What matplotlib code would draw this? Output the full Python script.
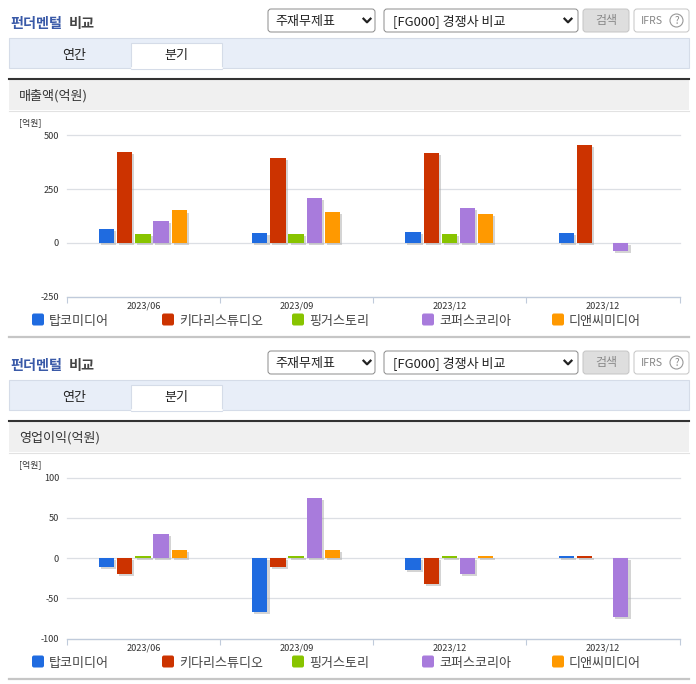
import matplotlib
matplotlib.use("Agg")
import matplotlib.pyplot as plt
import matplotlib.patheffects as pe
from matplotlib.patches import Rectangle, FancyBboxPatch, Circle
import numpy as np

plt.rcParams['font.family'] = ['Noto Sans CJK KR', 'DejaVu Sans']

quarters = ["2023/06", "2023/09", "2023/12", "2023/12"]
companies = ["탑코미디어", "키다리스튜디오", "핑거스토리", "코퍼스코리아", "디앤씨미디어"]
colors = ["#1f6be0", "#cc3300", "#88c400", "#a87bdc", "#ff9900"]

# 매출액, per company, per quarter (nan = no bar)
sales_top = [66, 46, 52, 48]
sales_kidari = [423, 397, 420, 457]
sales_finger = [43, 43, 43, np.nan]
sales_corpus = [103, 210, 163, -39]
sales_dnc = [151, 145, 136, np.nan]

# 영업이익
profit_top = [-11, -67, -15, 2]
profit_kidari = [-20, -11, -32, 2]
profit_finger = [3, 3, 3, np.nan]
profit_corpus = [30, 75, -20, -73]
profit_dnc = [10, 10, 2, np.nan]

sales = [sales_top, sales_kidari, sales_finger, sales_corpus, sales_dnc]
profit = [profit_top, profit_kidari, profit_finger, profit_corpus, profit_dnc]

W, H = 696, 684
fig = plt.figure(figsize=(W / 100, H / 100), dpi=100)

# page chrome lives in a full figure axes in pixel coordinates
bg = fig.add_axes([0, 0, 1, 1])
bg.set_xlim(0, W)
bg.set_ylim(H, 0)
bg.axis("off")


def rounded(x0, y0, x1, y1, fc, ec):
    bg.add_patch(FancyBboxPatch((x0 + 2, y0 + 2), x1 - x0 - 4, y1 - y0 - 4,
                                boxstyle="round,pad=2,rounding_size=3",
                                fc=fc, ec=ec, lw=0.7))


def chevron(x, y):
    bg.plot([x - 3.5, x, x + 3.5], [y - 1.8, y + 1.8, y - 1.8], color="#222222", lw=1.6)


def draw_chrome(dy, label):
    bg.text(10, 24 + dy, "펀더멘털", color="#3a5aa8", fontsize=10.2, fontweight="bold", va="center")
    bg.text(69, 24 + dy, "비교", color="#444444", fontsize=10.2, fontweight="bold", va="center")

    rounded(268, 9 + dy, 375, 32 + dy, "white", "#8a8a8a")
    bg.text(275, 21 + dy, "주재무제표", color="#222222", fontsize=9.4, va="center")
    chevron(367, 20.5 + dy)
    rounded(384, 9 + dy, 578, 32 + dy, "white", "#8a8a8a")
    bg.text(393, 21 + dy, "[FG000] 경쟁사 비교", color="#222222", fontsize=9.4, va="center")
    chevron(568, 20.5 + dy)
    rounded(583, 9 + dy, 629, 32 + dy, "#dedede", "#c4c4c4")
    bg.text(606, 20.5 + dy, "검색", color="#888888", fontsize=8.6, ha="center", va="center")
    rounded(634, 9 + dy, 689, 32 + dy, "white", "#c4c4c4")
    bg.text(641, 20.5 + dy, "IFRS", color="#888888", fontsize=7.6, va="center")
    bg.add_patch(Circle((676.5, 20.5 + dy), 6.5, fc="white", ec="#999999", lw=0.8))
    bg.text(676.5, 20.5 + dy, "?", color="#888888", fontsize=7, ha="center", va="center")

    bg.add_patch(Rectangle((9, 38 + dy), 680, 30, fc="#e8eef8", ec="#d5dce8", lw=0.8))
    bg.add_patch(Rectangle((131, 43 + dy), 91, 25.5, fc="white", ec="#d5dce8", lw=0.8))
    bg.plot([131.5, 221.5], [68 + dy, 68 + dy], color="white", lw=1.2)
    bg.text(74, 55 + dy, "연간", color="#222222", fontsize=9.4, ha="center", va="center")
    bg.text(176, 55 + dy, "분기", color="#222222", fontsize=9.4, ha="center", va="center")

    bg.add_patch(Rectangle((9, 80 + dy), 680, 30, fc="#f0f0f0", ec="none"))
    bg.plot([9, 689], [110.5 + dy, 110.5 + dy], color="#e2e2e2", lw=0.8)
    bg.plot([9, 689], [79 + dy, 79 + dy], color="#333333", lw=1.5)
    bg.text(19, 96 + dy, label, color="#333333", fontsize=9.4, va="center")
    bg.text(19, 122.5 + dy, "[억원]", color="#333333", fontsize=6.4, va="center")

    legend_x = [32, 162, 292, 422, 552]
    for x, name, c in zip(legend_x, companies, colors):
        bg.add_patch(FancyBboxPatch((x + 1.5, 315 + dy), 9, 9,
                                    boxstyle="round,pad=1.5,rounding_size=2", fc=c, ec="none"))
        bg.text(x + 17, 321 + dy, name, color="#444444", fontsize=9.4, va="center")

    bg.plot([9, 689], [337 + dy, 337 + dy], color="#c6c6c6", lw=1.6)


def draw_chart(dy, series, yticks):
    top, bottom = 135.5 + dy, 296.5 + dy
    left, right = 66.7, 679.7
    ax = fig.add_axes([left / W, 1 - bottom / H, (right - left) / W, (bottom - top) / H])
    ax.patch.set_alpha(0)
    ax.set_xlim(0, len(quarters))
    ax.set_ylim(yticks[0], yticks[-1])

    centers = np.arange(len(quarters)) + 0.5
    step = 0.1185
    for i, (vals, c) in enumerate(zip(series, colors)):
        ax.bar(centers + (i - 2) * step - 0.003, vals, width=0.1, color=c, zorder=3,
               path_effects=[pe.SimplePatchShadow(offset=(1.5, -1.5),
                                                  shadow_rgbFace="#aaaaaa", alpha=0.5),
                             pe.Normal()])

    ax.set_yticks(yticks)
    ax.set_yticklabels([str(t) for t in yticks], fontsize=6.6, color="#333333")
    ax.grid(axis="y", color="#dcdfe4", lw=0.9, zorder=0, clip_on=False)
    ax.set_axisbelow(True)
    ax.tick_params(axis="y", length=0, pad=5.5)

    ax.set_xticks(np.arange(len(quarters) + 1))
    ax.set_xticklabels([])
    ax.set_xticks(centers, minor=True)
    ax.set_xticklabels(quarters, minor=True, fontsize=6.6, color="#333333")
    ax.tick_params(axis="x", which="major", length=4, color="#c0cbdb", width=0.8)
    ax.tick_params(axis="x", which="minor", length=0, pad=3.5)

    for s in ["top", "left", "right"]:
        ax.spines[s].set_visible(False)
    ax.spines["bottom"].set_color("#c0cbdb")
    ax.spines["bottom"].set_linewidth(0.9)


draw_chrome(0, "매출액(억원)")
draw_chart(0, sales, [-250, 0, 250, 500])
draw_chrome(342, "영업이익(억원)")
draw_chart(342, profit, [-100, -50, 0, 50, 100])

fig.savefig("out.png", dpi=100)
